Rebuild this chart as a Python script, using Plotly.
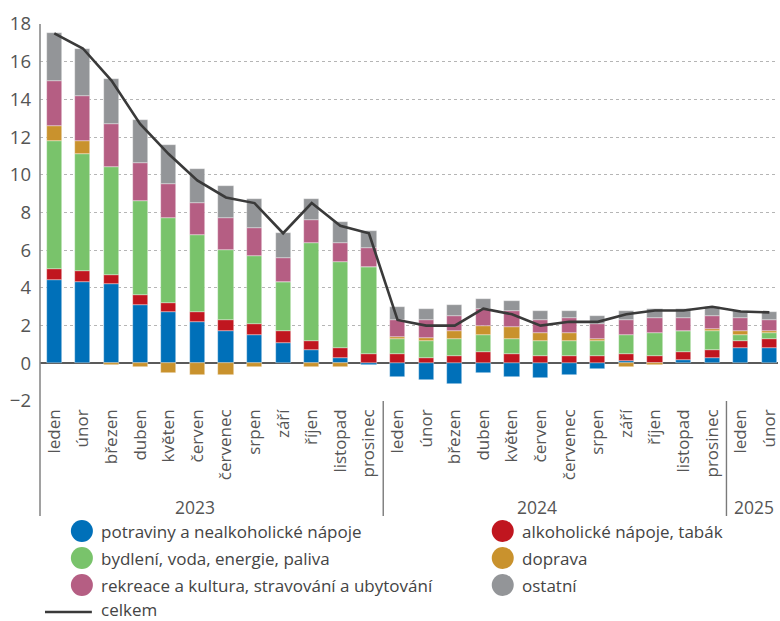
import plotly.graph_objects as go

months = ["leden", "únor", "březen", "duben", "květen", "červen", "červenec", "srpen",
          "září", "říjen", "listopad", "prosinec"] * 2 + ["leden", "únor"]
years = ["2023", "2024", "2025"]

potraviny = [4.4, 4.3, 4.2, 3.1, 2.7, 2.2, 1.7, 1.5, 1.1, 0.7, 0.3, -0.1,
             -0.7, -0.9, -1.1, -0.5, -0.7, -0.8, -0.6, -0.3, 0.1, 0.0, 0.2, 0.3, 0.8, 0.8]
alkohol = [0.6, 0.6, 0.5, 0.5, 0.5, 0.5, 0.6, 0.6, 0.6, 0.5, 0.5, 0.5,
           0.5, 0.3, 0.4, 0.6, 0.5, 0.4, 0.4, 0.4, 0.4, 0.4, 0.4, 0.4, 0.4, 0.5]
bydleni = [6.8, 6.2, 5.7, 5.0, 4.5, 4.1, 3.7, 3.6, 2.6, 5.2, 4.6, 4.6,
           0.8, 0.9, 0.9, 0.9, 0.8, 0.8, 0.8, 0.8, 1.0, 1.2, 1.1, 1.0, 0.3, 0.3]
doprava = [0.8, 0.7, -0.1, -0.2, -0.5, -0.6, -0.6, -0.2, 0.0, -0.2, -0.2, 0.0,
           0.1, 0.15, 0.4, 0.5, 0.6, 0.4, 0.4, 0.1, -0.2, -0.1, 0.0, 0.1, 0.2, 0.1]
rekreace = [2.4, 2.4, 2.3, 2.0, 1.8, 1.7, 1.7, 1.5, 1.3, 1.2, 1.0, 1.0,
            0.9, 0.95, 0.8, 0.9, 0.9, 0.7, 0.8, 0.8, 0.8, 0.8, 0.7, 0.7, 0.7, 0.6]
ostatni = [2.5, 2.5, 2.4, 2.3, 2.1, 1.8, 1.7, 1.5, 1.3, 1.1, 1.1, 0.9,
           0.7, 0.6, 0.6, 0.5, 0.5, 0.5, 0.4, 0.4, 0.5, 0.5, 0.5, 0.5, 0.35, 0.4]
celkem = [17.5, 16.7, 15.0, 12.7, 11.1, 9.7, 8.8, 8.5, 6.9, 8.5, 7.3, 6.9,
          2.3, 2.0, 2.0, 2.9, 2.6, 2.0, 2.2, 2.2, 2.6, 2.8, 2.8, 3.0, 2.75, 2.7]

series_names = ["potraviny a nealkoholické nápoje", "alkoholické nápoje, tabák",
                "bydlení, voda, energie, paliva", "doprava",
                "rekreace a kultura, stravování a ubytování", "ostatní"]
series_values = [potraviny, alkohol, bydleni, doprava, rekreace, ostatni]
colors = ["#0070b9", "#c0161f", "#79c36b", "#c9922d", "#b55e83", "#939598"]

x = list(range(len(months)))
FONT = "Open Sans"
TXT = "#555555"

fig = go.Figure()
for name, vals, col in zip(series_names, series_values, colors):
    fig.add_trace(go.Bar(x=x, y=vals, name=name, marker_color=col,
                         marker_line=dict(color="rgba(255,255,255,0.6)", width=0.6),
                         width=0.53, showlegend=False))
fig.add_trace(go.Scatter(x=x, y=celkem, mode="lines", name="celkem",
                         line=dict(color="#3a3a3a", width=2.6), showlegend=False))

# plot geometry in pixels
L, R, T, B = 40, 780, 24, 401
W, H = R - L, B - T
def px(xp):
    return (xp - L) / W
def py(yp):
    return (B - yp) / H

shapes = []
shapes.append(dict(type="line", xref="paper", yref="paper", x0=0, x1=0, y0=1, y1=py(516),
                   line=dict(color="#8a8a8a", width=1.6)))
for sep in [11.5, 23.5]:
    shapes.append(dict(type="line", xref="x", yref="paper", x0=sep, x1=sep, y0=0, y1=py(516),
                       line=dict(color="#7a7a7a", width=1.4)))

annotations = []
for yr, xpos in zip(years, [195, 538, 756]):
    annotations.append(dict(text=yr, xref="paper", yref="paper", x=px(xpos), y=py(507),
                            xanchor="center", yanchor="middle", showarrow=False,
                            font=dict(family=FONT, size=17.5, color=TXT)))

row_y = [531, 558, 585]
col_x = [82, 504]
order = [(0, 0, 0), (2, 1, 0), (4, 2, 0), (1, 0, 1), (3, 1, 1), (5, 2, 1)]
LEG_FONT = dict(family=FONT, size=17, color="#444444")
for idx, r, c in order:
    cx, cy = col_x[c], row_y[r]
    shapes.append(dict(type="circle", xref="paper", yref="paper",
                       xsizemode="pixel", ysizemode="pixel",
                       xanchor=px(cx), yanchor=py(cy), x0=-11, x1=11, y0=-11, y1=11,
                       fillcolor=colors[idx], line=dict(width=0)))
    annotations.append(dict(text=series_names[idx], xref="paper", yref="paper",
                            x=px(cx + 17), y=py(cy), xanchor="left", yanchor="middle",
                            showarrow=False, font=LEG_FONT))
shapes.append(dict(type="line", xref="paper", yref="paper", x0=px(45), x1=px(92),
                   y0=py(612), y1=py(612), line=dict(color="#3a3a3a", width=2.6)))
annotations.append(dict(text="celkem", xref="paper", yref="paper", x=px(99), y=py(609),
                        xanchor="left", yanchor="middle", showarrow=False, font=LEG_FONT))

fig.update_layout(
    width=780, height=621,
    margin=dict(l=L, r=780 - R, t=T, b=621 - B, pad=0),
    barmode="relative",
    bargap=0,
    plot_bgcolor="white", paper_bgcolor="white",
    shapes=shapes, annotations=annotations,
    showlegend=False,
)
fig.update_xaxes(range=[-0.5, -0.5 + W / 28.68], tickmode="array", tickvals=x, ticktext=months,
                 tickangle=-90, ticks="", showgrid=False, zeroline=False, showline=False,
                 ticklabeloverflow="allow",
                 tickfont=dict(family=FONT, size=17, color=TXT), ticklabelstandoff=4)
fig.update_yaxes(range=[-2, 18], dtick=2, tickmode="linear", showgrid=True,
                 gridcolor="#b5b5b5", griddash="dot", gridwidth=1,
                 zeroline=True, zerolinecolor="#5a5a5a", zerolinewidth=1.6,
                 showline=False, ticks="", tickfont=dict(family=FONT, size=18.5, color=TXT),
                 ticklabelstandoff=8, tickformat="d")

fig.write_html("out.html", config={"displayModeBar": False},
               post_script="document.body.style.margin='0';document.body.style.padding='0';")
